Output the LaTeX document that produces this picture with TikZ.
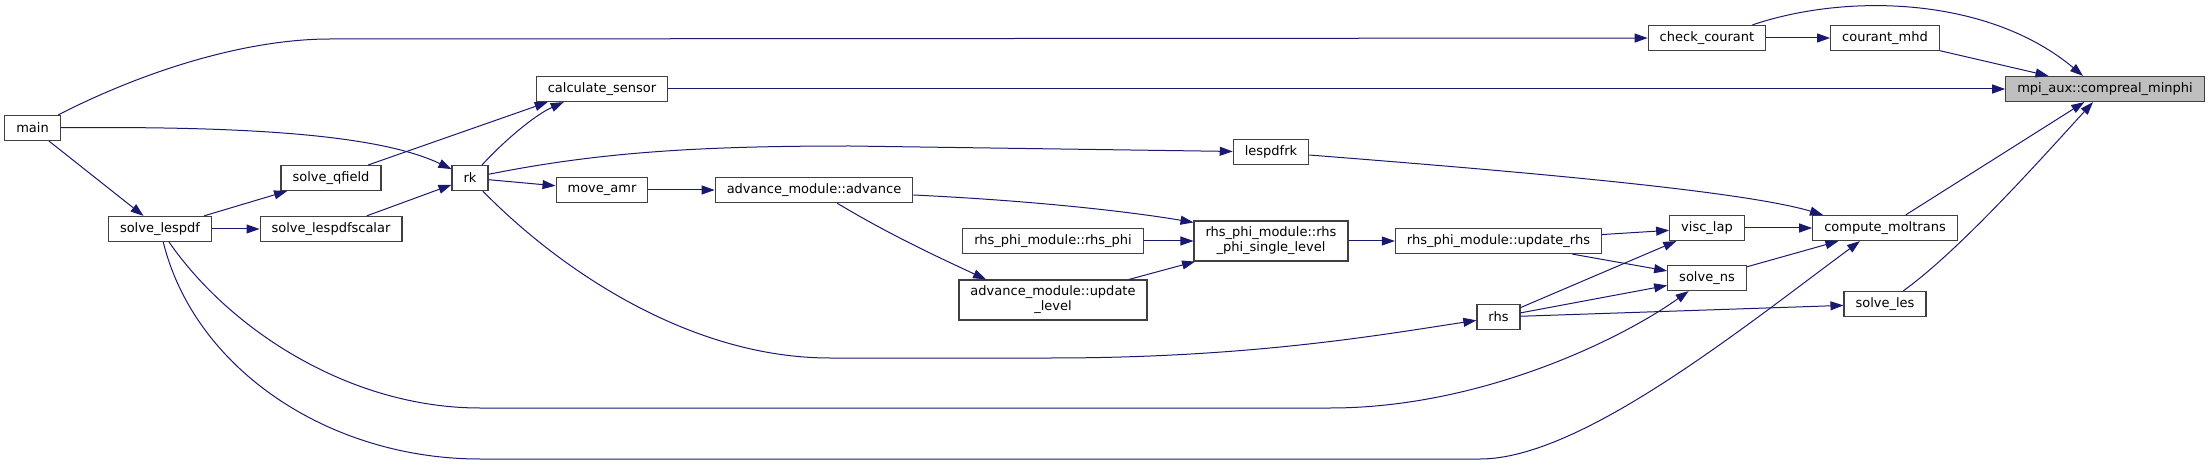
\documentclass[tikz,border=0pt]{standalone}
\usepackage{fontspec}
\setmainfont{DejaVu Sans}
\usepackage{xcolor}
\usepackage{tikz}
\usetikzlibrary{arrows.meta}

\definecolor{edgeblue}{RGB}{25,25,112}
\definecolor{boxline}{RGB}{64,64,64}
\definecolor{hilite}{RGB}{191,191,191}

\begin{document}
\begin{tikzpicture}[
  x=1pt, y=-1pt,
  func/.style   = {rectangle, draw=boxline, fill=white, line width=1.2pt,
                   inner xsep=11.5pt, inner ysep=6pt, minimum height=25pt,
                   align=center, font=\fontsize{13}{15}\selectfont},
  target/.style = {func, fill=hilite},
  calls/.style  = {-{Triangle[length=13pt, width=9pt]}, draw=edgeblue,
                   line width=1pt},
]
  \useasboundingbox (0,0) rectangle (2209,465);

  \node[func] (main)               at (32.5,128) {main};
  \node[func] (solve_lespdf)       at (160,229)  {solve\_lespdf};
  \node[func] (solve_qfield)       at (331,178)  {solve\_qfield};
  \node[func] (solve_lespdfscalar) at (331,229)  {solve\_lespdfscalar};
  \node[func] (rk)                 at (470,178)  {rk};
  \node[func] (calculate_sensor)   at (602,89)   {calculate\_sensor};
  \node[func] (move_amr)           at (602,190)  {move\_amr};
  \node[func] (advance)            at (814,190)  {advance\_module::advance};
  \node[func] (rhs_phi)            at (1053,241) {rhs\_phi\_module::rhs\_phi};
  \node[func] (update_level)       at (1053,300) {advance\_module::update\\\_level};
  \node[func] (lespdfrk)           at (1271,152) {lespdfrk};
  \node[func] (single_level)       at (1271,241) {rhs\_phi\_module::rhs\\\_phi\_single\_level};
  \node[func] (update_rhs)         at (1498.5,241) {rhs\_phi\_module::update\_rhs};
  \node[func] (rhs)                at (1498.5,317) {rhs};
  \node[func] (check_courant)      at (1707,38)  {check\_courant};
  \node[func] (visc_lap)           at (1707,228) {visc\_lap};
  \node[func] (solve_ns)           at (1707,278) {solve\_ns};
  \node[func] (courant_mhd)        at (1885,38)  {courant\_mhd};
  \node[func] (compute_moltrans)   at (1885,228) {compute\_moltrans};
  \node[func] (solve_les)          at (1885,304) {solve\_les};
  \node[target] (compreal)         at (2105,89)  {mpi\_aux::compreal\_minphi};

  \draw[calls] (main) .. controls (150,68) and (250,39) .. (330,39) -- (check_courant);
  \draw[calls] (main) .. controls (250,126) and (380,135) .. (rk);
  \draw[calls] (main) -- (solve_lespdf);
  \draw[calls] (solve_lespdf) -- (solve_qfield);
  \draw[calls] (solve_lespdf) -- (solve_lespdfscalar);
  \draw[calls] (solve_lespdf) .. controls (230,330) and (350,408) .. (480,408)
               -- (1330,408) .. controls (1480,408) and (1620,340) .. (solve_ns);
  \draw[calls] (solve_lespdf) .. controls (195,370) and (330,459) .. (480,459)
               -- (1480,459) .. controls (1580,459) and (1740,330)
               .. ([xshift=-25pt]compute_moltrans.south);
  \draw[calls] (solve_qfield) -- ([xshift=12pt]calculate_sensor.south west);
  \draw[calls] (solve_lespdfscalar) -- (rk);
  \draw[calls] (rk) .. controls (505,140) and (535,115) .. ([xshift=28pt]calculate_sensor.south west);
  \draw[calls] (rk) .. controls (600,152) and (700,146) .. (850,146) -- (lespdfrk);
  \draw[calls] (rk) -- (move_amr);
  \draw[calls] (rk) .. controls (560,270) and (690,358) .. (830,358)
               -- (1050,358) .. controls (1250,358) and (1380,335) .. (rhs);
  \draw[calls] (move_amr) -- (advance);
  \draw[calls] ([yshift=-5pt]advance.east) .. controls (1020,200) and (1120,210)
               .. ([yshift=-2pt]single_level.north west);
  \draw[calls] ([xshift=23pt]advance.south) .. controls (890,235) and (940,258)
               .. ([xshift=-67pt]update_level.north);
  \draw[calls] (rhs_phi) -- (single_level);
  \draw[calls] (update_level) -- (single_level);
  \draw[calls] (single_level) -- (update_rhs);
  \draw[calls] (update_rhs) -- (visc_lap);
  \draw[calls] (update_rhs) -- (solve_ns);
  \draw[calls] (rhs) -- (visc_lap);
  \draw[calls] (rhs) -- (solve_ns);
  \draw[calls] (rhs) -- (solve_les);
  \draw[calls] (lespdfrk) .. controls (1500,170) and (1740,190)
               .. ([xshift=-62pt]compute_moltrans.north);
  \draw[calls] (visc_lap) -- (compute_moltrans);
  \draw[calls] (solve_ns) -- (compute_moltrans);
  \draw[calls] (check_courant) -- (courant_mhd);
  \draw[calls] (courant_mhd) -- (compreal);
  \draw[calls] ([xshift=-14pt]check_courant.north east) .. controls (1850,-8) and (1990,-2)
               .. ([xshift=-22pt]compreal.north);
  \draw[calls] (calculate_sensor) -- (compreal);
  \draw[calls] (compute_moltrans) -- (compreal);
  \draw[calls] (solve_les) .. controls (1960,250) and (2040,160) .. (compreal);
\end{tikzpicture}
\end{document}
